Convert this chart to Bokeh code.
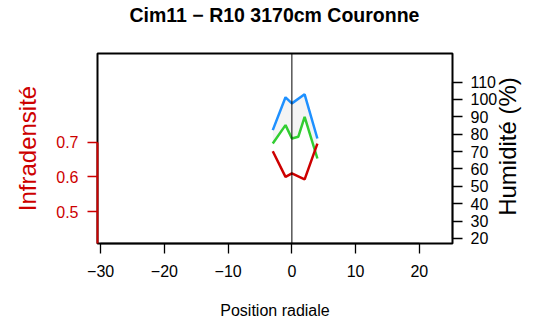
import math
from bokeh.plotting import figure
from bokeh.models import LinearAxis, Range1d, FixedTicker, Span, Title
from bokeh.embed import file_html
from bokeh.resources import INLINE

title_text = "Cim11 − R10 3170cm Couronne"
x_label = "Position radiale"
left_label = "Infradensité"
right_label = "Humidité (%)"

x_ticks = [-30, -20, -10, 0, 10, 20]
dens_ticks = [0.5, 0.6, 0.7]
hum_ticks = [20, 30, 40, 50, 60, 70, 80, 90, 100, 110]

red_x = [-3, -1, 0, 2, 4]
red_density = [0.674, 0.600, 0.610, 0.593, 0.696]
blue_x = [-3, -1, 0, 2, 4]
blue_hum = [82.3, 101.2, 97.7, 102.9, 77.5]
green_x = [-3, -1, 0, 1, 2, 4]
green_hum = [74.6, 85.2, 77.5, 78.5, 90.0, 66.0]

FONT = "Liberation Sans"
RED = "#CD0000"
GREEN = "#32CD32"
BLUE = "#1E90FF"

p = figure(width=537, height=324, output_backend="svg", toolbar_location=None,
           x_range=Range1d(-30.5, 25.2), y_range=Range1d(0.4085, 0.955),
           x_axis_type=None, y_axis_type=None,
           min_border_left=97, min_border_right=69, min_border_top=53, min_border_bottom=81)
p.extra_y_ranges = {"hum": Range1d(17.1, 126.4)}
p.outline_line_color = "black"
p.outline_line_width = 2
p.background_fill_color = "white"
p.border_fill_color = "white"

# title (with an empty spacer title between it and the frame)
p.add_layout(Title(text=" ", text_font_size="23.5px", standoff=0), "above")
p.add_layout(Title(text=title_text, align="left", offset=32, standoff=0,
                   text_font=FONT, text_font_size="19.5px", text_font_style="bold",
                   text_color="black"), "above")

# bottom axis
xa = LinearAxis(ticker=FixedTicker(ticks=x_ticks), axis_label=x_label)
xa.bounds = (x_ticks[0], x_ticks[-1])
xa.major_label_text_font = FONT
xa.major_label_text_font_size = "16px"
xa.major_label_text_color = "black"
xa.axis_label_text_font = FONT
xa.axis_label_text_font_size = "16px"
xa.axis_label_text_font_style = "normal"
xa.axis_label_text_color = "black"
xa.axis_label_standoff = 22
xa.major_label_standoff = 11
xa.major_tick_out = 10
xa.major_tick_in = 0
xa.minor_tick_out = 0
xa.minor_tick_in = 0
xa.major_tick_line_width = 1.3
xa.axis_line_width = 1.3
p.add_layout(xa, "below")

# left axis (density)
ya = LinearAxis(ticker=FixedTicker(ticks=dens_ticks), axis_label=left_label)
ya.bounds = (p.y_range.start, dens_ticks[-1])
ya.axis_line_color = RED
ya.axis_line_width = 2
ya.major_tick_line_color = RED
ya.major_tick_line_width = 1.3
ya.major_tick_out = 10
ya.major_tick_in = 0
ya.minor_tick_out = 0
ya.minor_tick_in = 0
ya.major_label_text_color = RED
ya.major_label_text_font = FONT
ya.major_label_text_font_size = "16px"
ya.major_label_standoff = 9
ya.axis_label_text_color = RED
ya.axis_label_text_font = FONT
ya.axis_label_text_font_size = "24px"
ya.axis_label_text_font_style = "normal"
ya.axis_label_standoff = 12
p.add_layout(ya, "left")

# right axis (humidity)
ra = LinearAxis(y_range_name="hum", ticker=FixedTicker(ticks=hum_ticks))
ra.bounds = (hum_ticks[0], hum_ticks[-1])
ra.axis_line_color = "black"
ra.axis_line_width = 1.3
ra.major_tick_line_width = 1.3
ra.major_tick_out = 10
ra.major_tick_in = 0
ra.minor_tick_out = 0
ra.minor_tick_in = 0
ra.major_label_text_font = FONT
ra.major_label_text_font_size = "16px"
ra.major_label_text_color = "black"
ra.major_label_standoff = 8
p.add_layout(ra, "right")

# right axis title, drawn as the single rotated label of a tick-less axis
label_anchor = 33
la = LinearAxis(y_range_name="hum", ticker=FixedTicker(ticks=[label_anchor]),
                major_label_overrides={label_anchor: right_label})
la.axis_line_color = None
la.major_tick_line_color = None
la.minor_tick_line_color = None
la.major_tick_out = 0
la.major_tick_in = 0
la.minor_tick_out = 0
la.minor_tick_in = 0
la.major_label_text_font = FONT
la.major_label_text_font_size = "24px"
la.major_label_text_color = "black"
la.major_label_standoff = 7
la.major_label_orientation = math.pi / 2
p.add_layout(la, "right")

# gray fill between blue and green
poly_x = blue_x + green_x[::-1]
poly_y = blue_hum + green_hum[::-1]
p.patch(poly_x, poly_y, y_range_name="hum", fill_color="#F4F4F4", line_color=None)

p.add_layout(Span(location=0, dimension="height", line_color="black", line_width=1))

p.line(blue_x, blue_hum, y_range_name="hum", line_color=BLUE, line_width=2.5)
p.line(green_x, green_hum, y_range_name="hum", line_color=GREEN, line_width=2.5)
p.line(red_x, red_density, line_color=RED, line_width=2.5)

open("out.html", "w").write(file_html(p, INLINE))
